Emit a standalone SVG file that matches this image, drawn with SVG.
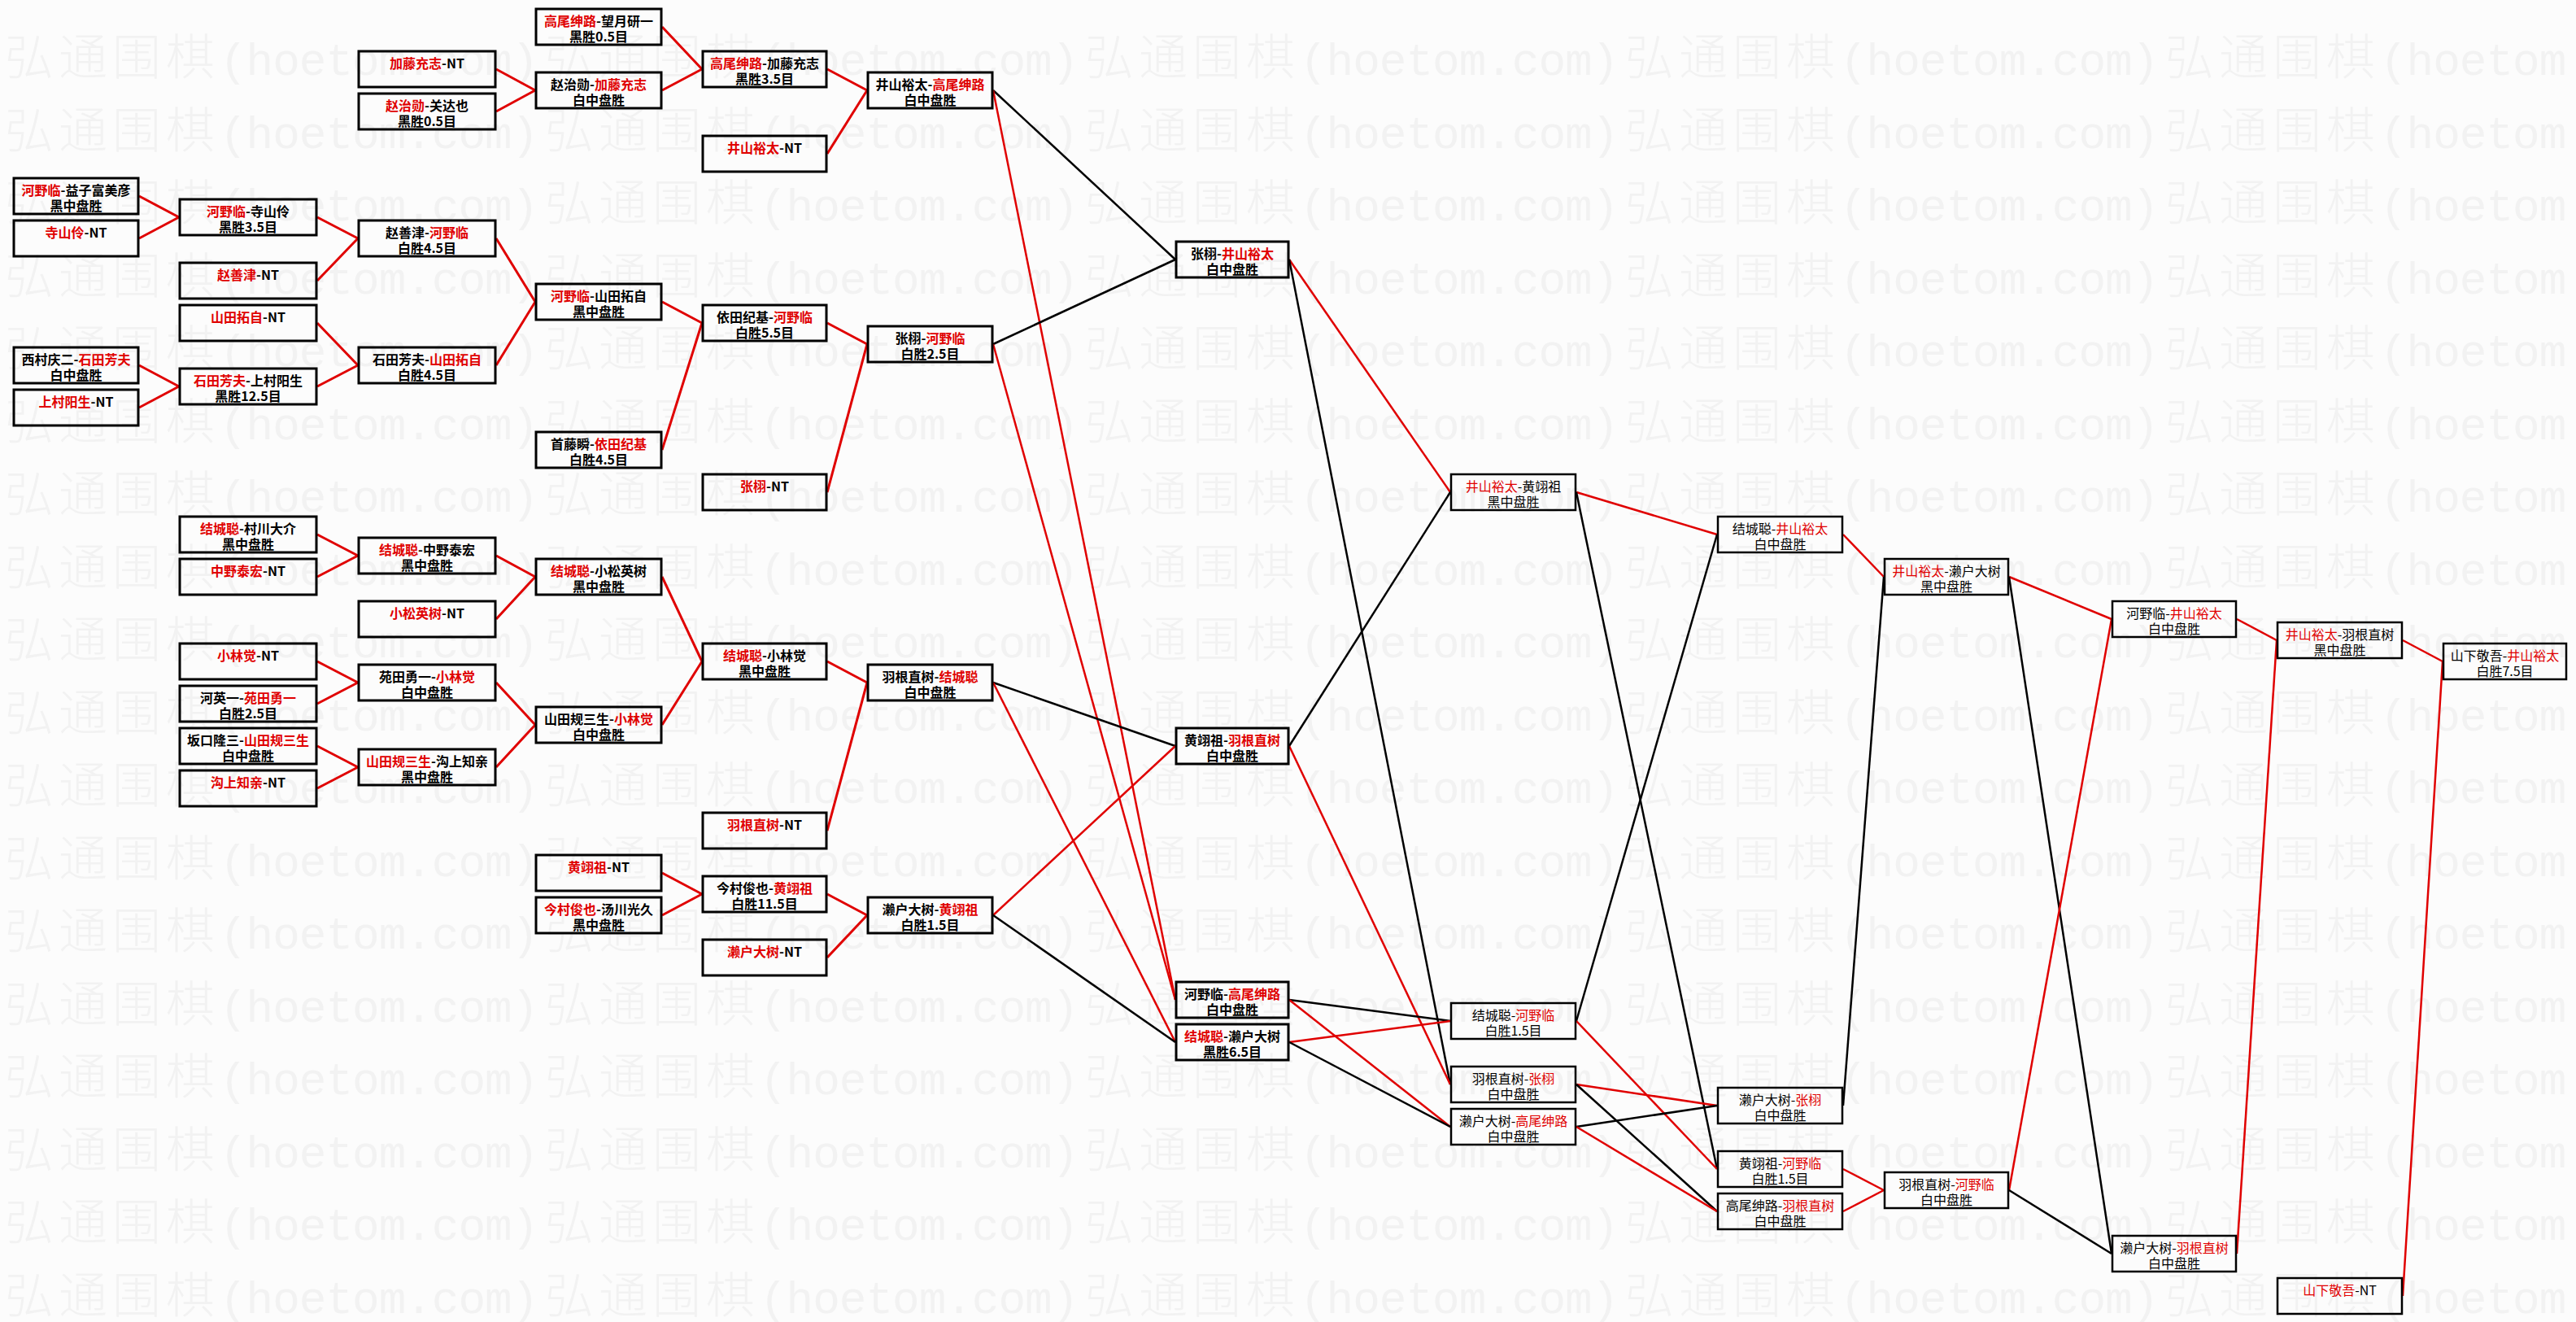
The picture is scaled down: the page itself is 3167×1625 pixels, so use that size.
<svg xmlns="http://www.w3.org/2000/svg" xmlns:xlink="http://www.w3.org/1999/xlink" width="3167" height="1625" viewBox="0 0 3167 1625">
<style>
.bg{fill:#fcfcfc}
.wc{font-family:"Noto Sans CJK SC",sans-serif;font-size:60px;font-weight:300;letter-spacing:6px}
.wa{font-family:"Liberation Mono",monospace;font-size:56px;letter-spacing:-1px}
.wm{fill:#f2f2f2}
.b{fill:none;stroke:#000;stroke-width:3}
.b2{fill:none;stroke:#000;stroke-width:2.5}
.t{font-family:"Noto Sans CJK SC","Noto Sans",sans-serif;font-size:16px;text-anchor:middle;fill:#000}
.tb{font-weight:bold}
.r{fill:#e00000}
.lr{stroke:#e00000;stroke-width:3;fill:none}
.lk{stroke:#000;stroke-width:2.5;fill:none}
.lr2{stroke:#e00000;stroke-width:2.5;fill:none}
</style>
<defs>
<text id="wmrow" class="wm"><tspan x="6" class="wc">弘通围棋</tspan><tspan class="wa">(hoetom.com)</tspan><tspan x="670" class="wc">弘通围棋</tspan><tspan class="wa">(hoetom.com)</tspan><tspan x="1334" class="wc">弘通围棋</tspan><tspan class="wa">(hoetom.com)</tspan><tspan x="1998" class="wc">弘通围棋</tspan><tspan class="wa">(hoetom.com)</tspan><tspan x="2662" class="wc">弘通围棋</tspan><tspan class="wa">(hoetom.com)</tspan></text>
</defs>
<rect class="bg" x="0" y="0" width="3167" height="1625"/>
<g id="watermark">
<use xlink:href="#wmrow" y="92"/><use xlink:href="#wmrow" y="181.5"/><use xlink:href="#wmrow" y="271"/><use xlink:href="#wmrow" y="360.5"/><use xlink:href="#wmrow" y="450"/><use xlink:href="#wmrow" y="539.5"/><use xlink:href="#wmrow" y="629"/><use xlink:href="#wmrow" y="718.5"/><use xlink:href="#wmrow" y="808"/><use xlink:href="#wmrow" y="897.5"/><use xlink:href="#wmrow" y="987"/><use xlink:href="#wmrow" y="1076.5"/><use xlink:href="#wmrow" y="1166"/><use xlink:href="#wmrow" y="1255.5"/><use xlink:href="#wmrow" y="1345"/><use xlink:href="#wmrow" y="1434.5"/><use xlink:href="#wmrow" y="1524"/><use xlink:href="#wmrow" y="1613.5"/>
</g>
<g id="connectors">
<line class="lr" x1="171" y1="241" x2="220" y2="267"/>
<line class="lr" x1="171" y1="293" x2="220" y2="267"/>
<line class="lr" x1="171" y1="449" x2="220" y2="475"/>
<line class="lr" x1="171" y1="501" x2="220" y2="475"/>
<line class="lr" x1="390" y1="267" x2="440" y2="293"/>
<line class="lr" x1="390" y1="345" x2="440" y2="293"/>
<line class="lr" x1="390" y1="397" x2="440" y2="449"/>
<line class="lr" x1="390" y1="475" x2="440" y2="449"/>
<line class="lr" x1="390" y1="657" x2="440" y2="683"/>
<line class="lr" x1="390" y1="709" x2="440" y2="683"/>
<line class="lr" x1="390" y1="813" x2="440" y2="839"/>
<line class="lr" x1="390" y1="865" x2="440" y2="839"/>
<line class="lr" x1="390" y1="917" x2="440" y2="943"/>
<line class="lr" x1="390" y1="969" x2="440" y2="943"/>
<line class="lr" x1="610" y1="85" x2="658" y2="111"/>
<line class="lr" x1="610" y1="137" x2="658" y2="111"/>
<line class="lr" x1="610" y1="293" x2="658" y2="371"/>
<line class="lr" x1="610" y1="449" x2="658" y2="371"/>
<line class="lr" x1="610" y1="683" x2="658" y2="709"/>
<line class="lr" x1="610" y1="761" x2="658" y2="709"/>
<line class="lr" x1="610" y1="839" x2="658" y2="891"/>
<line class="lr" x1="610" y1="943" x2="658" y2="891"/>
<line class="lr" x1="814" y1="33" x2="863" y2="85"/>
<line class="lr" x1="814" y1="111" x2="863" y2="85"/>
<line class="lr" x1="814" y1="371" x2="863" y2="397"/>
<line class="lr" x1="814" y1="553" x2="863" y2="397"/>
<line class="lr" x1="814" y1="709" x2="863" y2="813"/>
<line class="lr" x1="814" y1="891" x2="863" y2="813"/>
<line class="lr" x1="814" y1="1073" x2="863" y2="1099"/>
<line class="lr" x1="814" y1="1125" x2="863" y2="1099"/>
<line class="lr" x1="1017" y1="85" x2="1066" y2="111"/>
<line class="lr" x1="1017" y1="189" x2="1066" y2="111"/>
<line class="lr" x1="1017" y1="397" x2="1066" y2="423"/>
<line class="lr" x1="1017" y1="605" x2="1066" y2="423"/>
<line class="lr" x1="1017" y1="813" x2="1066" y2="839"/>
<line class="lr" x1="1017" y1="1021" x2="1066" y2="839"/>
<line class="lr" x1="1017" y1="1099" x2="1066" y2="1125"/>
<line class="lr" x1="1017" y1="1177" x2="1066" y2="1125"/>
<line class="lk" x1="1221" y1="111" x2="1445" y2="319"/>
<line class="lr2" x1="1221" y1="111" x2="1445" y2="1229"/>
<line class="lk" x1="1221" y1="423" x2="1445" y2="319"/>
<line class="lr2" x1="1221" y1="423" x2="1445" y2="1229"/>
<line class="lk" x1="1221" y1="839" x2="1445" y2="917"/>
<line class="lr2" x1="1221" y1="839" x2="1445" y2="1281"/>
<line class="lr2" x1="1221" y1="1125" x2="1445" y2="917"/>
<line class="lk" x1="1221" y1="1125" x2="1445" y2="1281"/>
<line class="lr2" x1="1585" y1="319" x2="1783" y2="605"/>
<line class="lk" x1="1585" y1="319" x2="1783" y2="1333"/>
<line class="lk" x1="1585" y1="917" x2="1783" y2="605"/>
<line class="lr2" x1="1585" y1="917" x2="1783" y2="1333"/>
<line class="lk" x1="1585" y1="1229" x2="1783" y2="1255"/>
<line class="lr2" x1="1585" y1="1229" x2="1783" y2="1385"/>
<line class="lr2" x1="1585" y1="1281" x2="1783" y2="1255"/>
<line class="lk" x1="1585" y1="1281" x2="1783" y2="1385"/>
<line class="lr2" x1="1938" y1="605" x2="2111" y2="657"/>
<line class="lk" x1="1938" y1="605" x2="2111" y2="1437"/>
<line class="lk" x1="1938" y1="1255" x2="2111" y2="657"/>
<line class="lr2" x1="1938" y1="1255" x2="2111" y2="1437"/>
<line class="lr2" x1="1938" y1="1333" x2="2111" y2="1359"/>
<line class="lk" x1="1938" y1="1333" x2="2111" y2="1489"/>
<line class="lk" x1="1938" y1="1385" x2="2111" y2="1359"/>
<line class="lr2" x1="1938" y1="1385" x2="2111" y2="1489"/>
<line class="lr2" x1="2266" y1="657" x2="2316" y2="709"/>
<line class="lk" x1="2266" y1="1359" x2="2316" y2="709"/>
<line class="lr2" x1="2266" y1="1437" x2="2316" y2="1463"/>
<line class="lr2" x1="2266" y1="1489" x2="2316" y2="1463"/>
<line class="lr2" x1="2470" y1="709" x2="2596" y2="761"/>
<line class="lk" x1="2470" y1="709" x2="2596" y2="1541"/>
<line class="lr2" x1="2470" y1="1463" x2="2596" y2="761"/>
<line class="lk" x1="2470" y1="1463" x2="2596" y2="1541"/>
<line class="lr2" x1="2750" y1="761" x2="2799" y2="787"/>
<line class="lr2" x1="2750" y1="1541" x2="2799" y2="787"/>
<line class="lr2" x1="2954" y1="787" x2="3003" y2="813"/>
<line class="lr2" x1="2954" y1="1593" x2="3003" y2="813"/>
</g>
<g id="n0_8"><rect class="b" x="17" y="219" width="153" height="44"/><text class="t tb" x="93.5" y="239.5"><tspan class="r">河野临</tspan>-益子富美彦</text><text class="t tb" x="93.5" y="258.5">黑中盘胜</text></g>
<g id="n0_10"><rect class="b" x="17" y="271" width="153" height="44"/><text class="t tb" x="93.5" y="291.5"><tspan class="r">寺山伶</tspan>-NT</text></g>
<g id="n0_16"><rect class="b" x="17" y="427" width="153" height="44"/><text class="t tb" x="93.5" y="447.5">西村庆二-<tspan class="r">石田芳夫</tspan></text><text class="t tb" x="93.5" y="466.5">白中盘胜</text></g>
<g id="n0_18"><rect class="b" x="17" y="479" width="153" height="44"/><text class="t tb" x="93.5" y="499.5"><tspan class="r">上村阳生</tspan>-NT</text></g>
<g id="n1_9"><rect class="b" x="221" y="245" width="168" height="44"/><text class="t tb" x="305" y="265.5"><tspan class="r">河野临</tspan>-寺山伶</text><text class="t tb" x="305" y="284.5">黑胜3.5目</text></g>
<g id="n1_12"><rect class="b" x="221" y="323" width="168" height="44"/><text class="t tb" x="305" y="343.5"><tspan class="r">赵善津</tspan>-NT</text></g>
<g id="n1_14"><rect class="b" x="221" y="375" width="168" height="44"/><text class="t tb" x="305" y="395.5"><tspan class="r">山田拓自</tspan>-NT</text></g>
<g id="n1_17"><rect class="b" x="221" y="453" width="168" height="44"/><text class="t tb" x="305" y="473.5"><tspan class="r">石田芳夫</tspan>-上村阳生</text><text class="t tb" x="305" y="492.5">黑胜12.5目</text></g>
<g id="n1_24"><rect class="b" x="221" y="635" width="168" height="44"/><text class="t tb" x="305" y="655.5"><tspan class="r">结城聪</tspan>-村川大介</text><text class="t tb" x="305" y="674.5">黑中盘胜</text></g>
<g id="n1_26"><rect class="b" x="221" y="687" width="168" height="44"/><text class="t tb" x="305" y="707.5"><tspan class="r">中野泰宏</tspan>-NT</text></g>
<g id="n1_30"><rect class="b" x="221" y="791" width="168" height="44"/><text class="t tb" x="305" y="811.5"><tspan class="r">小林觉</tspan>-NT</text></g>
<g id="n1_32"><rect class="b" x="221" y="843" width="168" height="44"/><text class="t tb" x="305" y="863.5">河英一-<tspan class="r">苑田勇一</tspan></text><text class="t tb" x="305" y="882.5">白胜2.5目</text></g>
<g id="n1_34"><rect class="b" x="221" y="895" width="168" height="44"/><text class="t tb" x="305" y="915.5">坂口隆三-<tspan class="r">山田规三生</tspan></text><text class="t tb" x="305" y="934.5">白中盘胜</text></g>
<g id="n1_36"><rect class="b" x="221" y="947" width="168" height="44"/><text class="t tb" x="305" y="967.5"><tspan class="r">沟上知亲</tspan>-NT</text></g>
<g id="n2_2"><rect class="b" x="441" y="63" width="168" height="44"/><text class="t tb" x="525" y="83.5"><tspan class="r">加藤充志</tspan>-NT</text></g>
<g id="n2_4"><rect class="b" x="441" y="115" width="168" height="44"/><text class="t tb" x="525" y="135.5"><tspan class="r">赵治勋</tspan>-关达也</text><text class="t tb" x="525" y="154.5">黑胜0.5目</text></g>
<g id="n2_10"><rect class="b" x="441" y="271" width="168" height="44"/><text class="t tb" x="525" y="291.5">赵善津-<tspan class="r">河野临</tspan></text><text class="t tb" x="525" y="310.5">白胜4.5目</text></g>
<g id="n2_16"><rect class="b" x="441" y="427" width="168" height="44"/><text class="t tb" x="525" y="447.5">石田芳夫-<tspan class="r">山田拓自</tspan></text><text class="t tb" x="525" y="466.5">白胜4.5目</text></g>
<g id="n2_25"><rect class="b" x="441" y="661" width="168" height="44"/><text class="t tb" x="525" y="681.5"><tspan class="r">结城聪</tspan>-中野泰宏</text><text class="t tb" x="525" y="700.5">黑中盘胜</text></g>
<g id="n2_28"><rect class="b" x="441" y="739" width="168" height="44"/><text class="t tb" x="525" y="759.5"><tspan class="r">小松英树</tspan>-NT</text></g>
<g id="n2_31"><rect class="b" x="441" y="817" width="168" height="44"/><text class="t tb" x="525" y="837.5">苑田勇一-<tspan class="r">小林觉</tspan></text><text class="t tb" x="525" y="856.5">白中盘胜</text></g>
<g id="n2_35"><rect class="b" x="441" y="921" width="168" height="44"/><text class="t tb" x="525" y="941.5"><tspan class="r">山田规三生</tspan>-沟上知亲</text><text class="t tb" x="525" y="960.5">黑中盘胜</text></g>
<g id="n3_0"><rect class="b" x="659" y="11" width="154" height="44"/><text class="t tb" x="736" y="31.5"><tspan class="r">高尾绅路</tspan>-望月研一</text><text class="t tb" x="736" y="50.5">黑胜0.5目</text></g>
<g id="n3_3"><rect class="b" x="659" y="89" width="154" height="44"/><text class="t tb" x="736" y="109.5">赵治勋-<tspan class="r">加藤充志</tspan></text><text class="t tb" x="736" y="128.5">白中盘胜</text></g>
<g id="n3_13"><rect class="b" x="659" y="349" width="154" height="44"/><text class="t tb" x="736" y="369.5"><tspan class="r">河野临</tspan>-山田拓自</text><text class="t tb" x="736" y="388.5">黑中盘胜</text></g>
<g id="n3_20"><rect class="b" x="659" y="531" width="154" height="44"/><text class="t tb" x="736" y="551.5">首藤瞬-<tspan class="r">依田纪基</tspan></text><text class="t tb" x="736" y="570.5">白胜4.5目</text></g>
<g id="n3_26"><rect class="b" x="659" y="687" width="154" height="44"/><text class="t tb" x="736" y="707.5"><tspan class="r">结城聪</tspan>-小松英树</text><text class="t tb" x="736" y="726.5">黑中盘胜</text></g>
<g id="n3_33"><rect class="b" x="659" y="869" width="154" height="44"/><text class="t tb" x="736" y="889.5">山田规三生-<tspan class="r">小林觉</tspan></text><text class="t tb" x="736" y="908.5">白中盘胜</text></g>
<g id="n3_40"><rect class="b" x="659" y="1051" width="154" height="44"/><text class="t tb" x="736" y="1071.5"><tspan class="r">黄翊祖</tspan>-NT</text></g>
<g id="n3_42"><rect class="b" x="659" y="1103" width="154" height="44"/><text class="t tb" x="736" y="1123.5"><tspan class="r">今村俊也</tspan>-汤川光久</text><text class="t tb" x="736" y="1142.5">黑中盘胜</text></g>
<g id="n4_2"><rect class="b" x="864" y="63" width="152" height="44"/><text class="t tb" x="940" y="83.5"><tspan class="r">高尾绅路</tspan>-加藤充志</text><text class="t tb" x="940" y="102.5">黑胜3.5目</text></g>
<g id="n4_6"><rect class="b" x="864" y="167" width="152" height="44"/><text class="t tb" x="940" y="187.5"><tspan class="r">井山裕太</tspan>-NT</text></g>
<g id="n4_14"><rect class="b" x="864" y="375" width="152" height="44"/><text class="t tb" x="940" y="395.5">依田纪基-<tspan class="r">河野临</tspan></text><text class="t tb" x="940" y="414.5">白胜5.5目</text></g>
<g id="n4_22"><rect class="b" x="864" y="583" width="152" height="44"/><text class="t tb" x="940" y="603.5"><tspan class="r">张栩</tspan>-NT</text></g>
<g id="n4_30"><rect class="b" x="864" y="791" width="152" height="44"/><text class="t tb" x="940" y="811.5"><tspan class="r">结城聪</tspan>-小林觉</text><text class="t tb" x="940" y="830.5">黑中盘胜</text></g>
<g id="n4_38"><rect class="b" x="864" y="999" width="152" height="44"/><text class="t tb" x="940" y="1019.5"><tspan class="r">羽根直树</tspan>-NT</text></g>
<g id="n4_41"><rect class="b" x="864" y="1077" width="152" height="44"/><text class="t tb" x="940" y="1097.5">今村俊也-<tspan class="r">黄翊祖</tspan></text><text class="t tb" x="940" y="1116.5">白胜11.5目</text></g>
<g id="n4_44"><rect class="b" x="864" y="1155" width="152" height="44"/><text class="t tb" x="940" y="1175.5"><tspan class="r">濑户大树</tspan>-NT</text></g>
<g id="n5_3"><rect class="b" x="1067" y="89" width="153" height="44"/><text class="t tb" x="1143.5" y="109.5">井山裕太-<tspan class="r">高尾绅路</tspan></text><text class="t tb" x="1143.5" y="128.5">白中盘胜</text></g>
<g id="n5_15"><rect class="b" x="1067" y="401" width="153" height="44"/><text class="t tb" x="1143.5" y="421.5">张栩-<tspan class="r">河野临</tspan></text><text class="t tb" x="1143.5" y="440.5">白胜2.5目</text></g>
<g id="n5_31"><rect class="b" x="1067" y="817" width="153" height="44"/><text class="t tb" x="1143.5" y="837.5">羽根直树-<tspan class="r">结城聪</tspan></text><text class="t tb" x="1143.5" y="856.5">白中盘胜</text></g>
<g id="n5_42"><rect class="b" x="1067" y="1103" width="153" height="44"/><text class="t tb" x="1143.5" y="1123.5">濑户大树-<tspan class="r">黄翊祖</tspan></text><text class="t tb" x="1143.5" y="1142.5">白胜1.5目</text></g>
<g id="n6_11"><rect class="b" x="1446" y="297" width="138" height="44"/><text class="t tb" x="1515" y="317.5">张栩-<tspan class="r">井山裕太</tspan></text><text class="t tb" x="1515" y="336.5">白中盘胜</text></g>
<g id="n6_34"><rect class="b" x="1446" y="895" width="138" height="44"/><text class="t tb" x="1515" y="915.5">黄翊祖-<tspan class="r">羽根直树</tspan></text><text class="t tb" x="1515" y="934.5">白中盘胜</text></g>
<g id="n6_46"><rect class="b" x="1446" y="1207" width="138" height="44"/><text class="t tb" x="1515" y="1227.5">河野临-<tspan class="r">高尾绅路</tspan></text><text class="t tb" x="1515" y="1246.5">白中盘胜</text></g>
<g id="n6_48"><rect class="b" x="1446" y="1259" width="138" height="44"/><text class="t tb" x="1515" y="1279.5"><tspan class="r">结城聪</tspan>-濑户大树</text><text class="t tb" x="1515" y="1298.5">黑胜6.5目</text></g>
<g id="n7_22"><rect class="b2" x="1784" y="583" width="153" height="44"/><text class="t" x="1860.5" y="603.5"><tspan class="r">井山裕太</tspan>-黄翊祖</text><text class="t" x="1860.5" y="622.5">黑中盘胜</text></g>
<g id="n7_47"><rect class="b2" x="1784" y="1233" width="153" height="44"/><text class="t" x="1860.5" y="1253.5">结城聪-<tspan class="r">河野临</tspan></text><text class="t" x="1860.5" y="1272.5">白胜1.5目</text></g>
<g id="n7_50"><rect class="b2" x="1784" y="1311" width="153" height="44"/><text class="t" x="1860.5" y="1331.5">羽根直树-<tspan class="r">张栩</tspan></text><text class="t" x="1860.5" y="1350.5">白中盘胜</text></g>
<g id="n7_52"><rect class="b2" x="1784" y="1363" width="153" height="44"/><text class="t" x="1860.5" y="1383.5">濑户大树-<tspan class="r">高尾绅路</tspan></text><text class="t" x="1860.5" y="1402.5">白中盘胜</text></g>
<g id="n8_24"><rect class="b2" x="2112" y="635" width="153" height="44"/><text class="t" x="2188.5" y="655.5">结城聪-<tspan class="r">井山裕太</tspan></text><text class="t" x="2188.5" y="674.5">白中盘胜</text></g>
<g id="n8_51"><rect class="b2" x="2112" y="1337" width="153" height="44"/><text class="t" x="2188.5" y="1357.5">濑户大树-<tspan class="r">张栩</tspan></text><text class="t" x="2188.5" y="1376.5">白中盘胜</text></g>
<g id="n8_54"><rect class="b2" x="2112" y="1415" width="153" height="44"/><text class="t" x="2188.5" y="1435.5">黄翊祖-<tspan class="r">河野临</tspan></text><text class="t" x="2188.5" y="1454.5">白胜1.5目</text></g>
<g id="n8_56"><rect class="b2" x="2112" y="1467" width="153" height="44"/><text class="t" x="2188.5" y="1487.5">高尾绅路-<tspan class="r">羽根直树</tspan></text><text class="t" x="2188.5" y="1506.5">白中盘胜</text></g>
<g id="n9_26"><rect class="b2" x="2317" y="687" width="152" height="44"/><text class="t" x="2393" y="707.5"><tspan class="r">井山裕太</tspan>-濑户大树</text><text class="t" x="2393" y="726.5">黑中盘胜</text></g>
<g id="n9_55"><rect class="b2" x="2317" y="1441" width="152" height="44"/><text class="t" x="2393" y="1461.5">羽根直树-<tspan class="r">河野临</tspan></text><text class="t" x="2393" y="1480.5">白中盘胜</text></g>
<g id="n10_28"><rect class="b2" x="2597" y="739" width="152" height="44"/><text class="t" x="2673" y="759.5">河野临-<tspan class="r">井山裕太</tspan></text><text class="t" x="2673" y="778.5">白中盘胜</text></g>
<g id="n10_58"><rect class="b2" x="2597" y="1519" width="152" height="44"/><text class="t" x="2673" y="1539.5">濑户大树-<tspan class="r">羽根直树</tspan></text><text class="t" x="2673" y="1558.5">白中盘胜</text></g>
<g id="n11_29"><rect class="b2" x="2800" y="765" width="153" height="44"/><text class="t" x="2876.5" y="785.5"><tspan class="r">井山裕太</tspan>-羽根直树</text><text class="t" x="2876.5" y="804.5">黑中盘胜</text></g>
<g id="n11_60"><rect class="b2" x="2800" y="1571" width="153" height="44"/><text class="t" x="2876.5" y="1591.5"><tspan class="r">山下敬吾</tspan>-NT</text></g>
<g id="n12_30"><rect class="b2" x="3004" y="791" width="151" height="44"/><text class="t" x="3079.5" y="811.5">山下敬吾-<tspan class="r">井山裕太</tspan></text><text class="t" x="3079.5" y="830.5">白胜7.5目</text></g>
</svg>
